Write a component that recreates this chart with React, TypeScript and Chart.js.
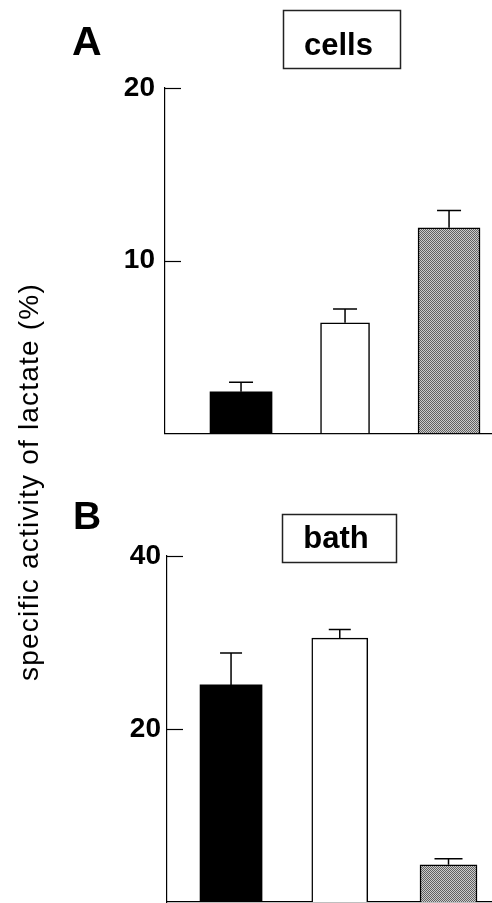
import React, { useEffect, useRef } from 'react';
import { Chart, registerables } from 'chart.js';

Chart.register(...registerables);

// ---- data ----
const barPositions = [1, 2, 3];
const cellsMean = [2.4, 6.4, 11.9];
const cellsErr = [0.55, 0.8, 1.0];
const bathMean = [25.1, 30.5, 4.3];
const bathErr = [3.7, 1.0, 0.7];
const cellsTicks = [10, 20];
const bathTicks = [20, 40];
const yTitle = 'specific activity of lactate (%)';

const FONT = '"Liberation Sans", Arial, Helvetica, sans-serif';

type PanelCfg = {
  letter: string;
  title: string;
  mean: number[];
  err: number[];
  ticks: number[];
  ymax: number;
  xmin: number;
  xmax: number;
  axisLeft: number;
  padTop: number;
  padBottom: number;
  labelPad: number;
  thickness: number[];
  caps: number[];
  letterX: number;
  letterY: number;
  letterSize: number;
  box: { x: number; y: number; w: number; h: number; baseline: number };
  height: number;
  top: number;
};

const panelA: PanelCfg = {
  letter: 'A',
  title: 'cells',
  mean: cellsMean,
  err: cellsErr,
  ticks: cellsTicks,
  ymax: 20,
  xmin: 0.269,
  xmax: 3.413,
  axisLeft: 165,
  padTop: 88,
  padBottom: 26,
  labelPad: 10,
  thickness: [62, 49, 62],
  caps: [24, 24, 24],
  letterX: 72,
  letterY: 55,
  letterSize: 41,
  box: { x: 283, y: 10, w: 117, h: 58, baseline: 55 },
  height: 460,
  top: 0,
};

const panelB: PanelCfg = {
  letter: 'B',
  title: 'bath',
  mean: bathMean,
  err: bathErr,
  ticks: bathTicks,
  ymax: 40,
  xmin: 0.411,
  xmax: 3.4,
  axisLeft: 167,
  padTop: 96,
  padBottom: 31,
  labelPad: 6,
  thickness: [62, 56, 57],
  caps: [22, 22, 28],
  letterX: 73,
  letterY: 69,
  letterSize: 39,
  box: { x: 282, y: 54, w: 114, h: 48, baseline: 88 },
  height: 473,
  top: 460,
};

function makePattern(): CanvasPattern | string {
  const c = document.createElement('canvas');
  c.width = 2;
  c.height = 2;
  const g = c.getContext('2d');
  if (!g) return '#9a9a9a';
  g.fillStyle = '#cccccc';
  g.fillRect(0, 0, 2, 2);
  g.fillStyle = '#616161';
  g.fillRect(0, 0, 1, 1);
  g.fillRect(1, 1, 1, 1);
  const p = g.createPattern(c, 'repeat');
  return p || '#9a9a9a';
}

function Panel({ cfg }: { cfg: PanelCfg }) {
  const ref = useRef<HTMLCanvasElement>(null);
  useEffect(() => {
    const canvas = ref.current;
    if (!canvas) return;
    const pat = makePattern();
    const fills: any[] = ['#000000', '#ffffff', pat];
    const datasets = cfg.mean.map((m, i) => ({
      label: String(i),
      data: [{ x: barPositions[i], y: m }],
      backgroundColor: fills[i],
      borderColor: '#000000',
      borderWidth: i === 0 ? 0 : 1.5,
      barThickness: cfg.thickness[i],
      grouped: false,
    }));

    const decor = {
      id: 'decor' + cfg.letter,
      afterDraw(chart: any) {
        const ctx = chart.ctx;
        const ys = chart.scales.y;
        const area = chart.chartArea;
        ctx.save();
        // inward tick marks
        ctx.strokeStyle = '#000';
        ctx.lineWidth = 1.2;
        cfg.ticks.forEach((v) => {
          const y = Math.round(ys.getPixelForValue(v)) + 0.5;
          ctx.beginPath();
          ctx.moveTo(area.left, y);
          ctx.lineTo(area.left + 16, y);
          ctx.stroke();
        });
        // panel letter
        ctx.fillStyle = '#000';
        ctx.font = `bold ${cfg.letterSize}px ${FONT}`;
        ctx.textAlign = 'left';
        ctx.textBaseline = 'alphabetic';
        ctx.fillText(cfg.letter, cfg.letterX, cfg.letterY);
        // title box
        const b = cfg.box;
        ctx.strokeStyle = '#222';
        ctx.lineWidth = 1.5;
        ctx.strokeRect(b.x + 0.5, b.y + 0.5, b.w, b.h);
        ctx.font = `bold 31px ${FONT}`;
        ctx.textAlign = 'center';
        ctx.fillText(cfg.title, b.x + b.w / 2 - 3, b.baseline);
        ctx.restore();
      },
      afterDatasetsDraw(chart: any) {
        const ctx = chart.ctx;
        const ys = chart.scales.y;
        ctx.save();
        ctx.strokeStyle = '#000';
        ctx.lineWidth = 1.5;
        cfg.mean.forEach((m, i) => {
          const el = chart.getDatasetMeta(i).data[0];
          if (!el) return;
          const top = ys.getPixelForValue(m + cfg.err[i]);
          const cap = cfg.caps[i];
          ctx.beginPath();
          ctx.moveTo(el.x, el.y);
          ctx.lineTo(el.x, top);
          ctx.moveTo(el.x - cap / 2, top);
          ctx.lineTo(el.x + cap / 2, top);
          ctx.stroke();
        });
        ctx.restore();
      },
    };

    const chart = new Chart(canvas, {
      type: 'bar',
      data: { datasets: datasets as any },
      options: {
        animation: false,
        responsive: false,
        events: [],
        layout: {
          padding: { left: 0, right: 0, top: cfg.padTop, bottom: cfg.padBottom },
        },
        plugins: {
          legend: { display: false },
          tooltip: { enabled: false },
          title: { display: false },
        },
        scales: {
          x: {
            type: 'linear',
            min: cfg.xmin,
            max: cfg.xmax,
            offset: false,
            ticks: { display: false },
            grid: { display: true, drawOnChartArea: false, drawTicks: false },
            border: { display: true, color: '#000', width: 1.3 },
            afterFit: (s: any) => {
              s.height = 0;
            },
          },
          y: {
            min: 0,
            max: cfg.ymax,
            afterBuildTicks: (s: any) => {
              s.ticks = cfg.ticks.map((v) => ({ value: v }));
            },
            ticks: {
              padding: cfg.labelPad,
              color: '#000',
              font: { family: FONT, weight: 'bold', size: 28 },
              callback: (v: any) => String(v),
            },
            grid: { display: true, drawOnChartArea: false, drawTicks: false },
            border: { display: true, color: '#000', width: 1.2 },
            afterFit: (s: any) => {
              s.width = cfg.axisLeft;
            },
          },
        },
      } as any,
      plugins: [decor],
    });
    return () => chart.destroy();
  }, [cfg]);
  return (
    <canvas
      ref={ref}
      width={492}
      height={cfg.height}
      style={{ position: 'absolute', left: 0, top: cfg.top, width: 492, height: cfg.height }}
    />
  );
}

export default function App() {
  return (
    <div
      style={{
        position: 'absolute',
        left: 0,
        top: 0,
        width: 492,
        height: 903,
        overflow: 'hidden',
        background: '#fff',
      }}
    >
      <Panel cfg={panelA} />
      <Panel cfg={panelB} />
      <div
        style={{
          position: 'absolute',
          left: 29 - 250,
          top: 482 - 16,
          width: 500,
          height: 32,
          lineHeight: '32px',
          textAlign: 'center',
          transform: 'rotate(-90deg)',
          transformOrigin: '50% 50%',
          fontFamily: FONT,
          fontSize: 28,
          letterSpacing: '1.2px',
          color: '#000',
          whiteSpace: 'nowrap',
        }}
      >
        {yTitle}
      </div>
    </div>
  );
}
